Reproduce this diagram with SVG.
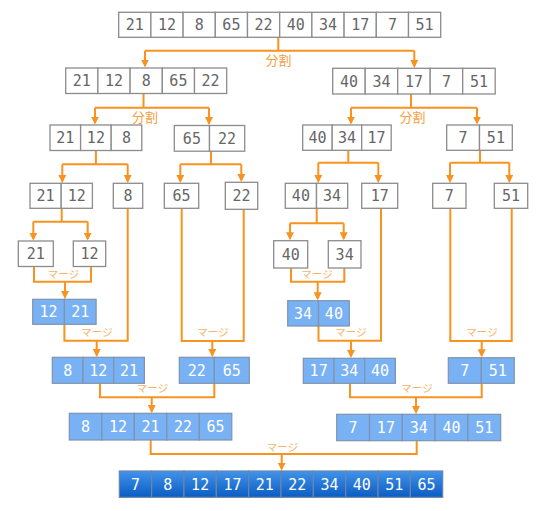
<svg xmlns="http://www.w3.org/2000/svg" width="542" height="511" viewBox="0 0 542 511">
<defs>
<linearGradient id="fg" x1="0" y1="0" x2="0" y2="1">
<stop offset="0" stop-color="#4193ea"/>
<stop offset="1" stop-color="#0b5cc2"/>
</linearGradient>
<marker id="ah" viewBox="0 0 10 10" refX="8" refY="5" markerWidth="8" markerHeight="8" markerUnits="userSpaceOnUse" orient="auto">
<path d="M0,0 L10,5 L0,10 z" fill="#f7931e"/>
</marker>
<style>
.g rect{fill:#fff;stroke:#8c8c8c;stroke-width:1.3}
.g text{fill:#666}
.b rect{fill:#79b1f5;stroke:#7f93ad;stroke-width:1.2}
.b text{fill:#fff}
.f rect{fill:url(#fg);stroke:#6a86aa;stroke-width:1.2}
.f text{fill:#fff}
text.n{font-family:"DejaVu Sans Mono",monospace;font-size:15px;text-anchor:middle}
.c path{fill:none;stroke:#f7931e;stroke-width:2}
.c path.a{marker-end:url(#ah)}
.lbl{font-family:"Noto Sans CJK JP",sans-serif;text-anchor:middle}
.split{fill:#f5a040;font-size:13px}
.merge{fill:#f7b36a;font-size:10.5px}
</style>
</defs>
<rect width="542" height="511" fill="#fff"/>

<g id="connectors" class="c">
<path d="M278.3 37.3V50.7M145 50.7H414.3"/>
<path class="a" d="M145 50.7V66"/>
<path class="a" d="M414.3 50.7V66.3"/>
<path d="M143.5 93.5V107.7M95 107.7H209"/>
<path class="a" d="M95 107.7V123"/>
<path class="a" d="M209 107.7V123.5"/>
<path d="M411 94V107.7M351 107.7H477"/>
<path class="a" d="M351 107.7V123"/>
<path class="a" d="M477 107.7V123"/>
<path d="M95.9 150.5V164.3M62.3 164.3H127.7"/>
<path class="a" d="M62.3 164.3V181.3"/>
<path class="a" d="M127.7 164.3V181.3"/>
<path d="M211 151.2V164.3M180.3 164.3H241.3"/>
<path class="a" d="M180.3 164.3V181.3"/>
<path class="a" d="M241.3 164.3V180.3"/>
<path d="M348.3 150.3V162.7M318.3 162.7H378.3"/>
<path class="a" d="M318.3 162.7V181.3"/>
<path class="a" d="M378.3 162.7V181.3"/>
<path d="M480 150.3V162.7M450 162.7H509.3"/>
<path class="a" d="M450 162.7V181.3"/>
<path class="a" d="M509.3 162.7V181.3"/>
<path d="M61.7 208.3V221.7M33.3 221.7H87.7"/>
<path class="a" d="M33.3 221.7V239"/>
<path class="a" d="M87.7 221.7V239"/>
<path d="M316.7 208.3V223.3M290 223.3H343.7"/>
<path class="a" d="M290 223.3V238.7"/>
<path class="a" d="M343.7 223.3V238.7"/>
<path d="M34 266.5V281.7H91V266.5"/>
<path class="a" d="M65 281.7V297.3"/>
<path d="M291 268V281.7H344.3V268"/>
<path class="a" d="M317.7 281.7V298.7"/>
<path d="M64.4 324.3V340.7H127.7V208.3"/>
<path class="a" d="M96.7 340.7V355.3"/>
<path d="M181.7 208.3V341H243.7V209.3"/>
<path class="a" d="M212.3 341V355.3"/>
<path d="M318.5 326V340.7H381V208.3"/>
<path class="a" d="M351 340.7V356.3"/>
<path d="M450.3 208.3V341H511.7V208.3"/>
<path class="a" d="M481.7 341V355.7"/>
<path d="M100 383.3V397.3H214.3V383.3"/>
<path class="a" d="M151.7 397.3V411.3"/>
<path d="M350 383.3V397.3H481.7V383.3"/>
<path class="a" d="M416 397.3V412.3"/>
<path d="M150.7 440V454H416.7V440.7"/>
<path class="a" d="M281.7 454V469"/>
</g>

<g id="labels">
<text class="lbl split" x="278.5" y="65">分割</text>
<text class="lbl split" x="145" y="121.5">分割</text>
<text class="lbl split" x="412.5" y="121.5">分割</text>
<text class="lbl merge" x="63.5" y="277.5">マージ</text>
<text class="lbl merge" x="317" y="277.5">マージ</text>
<text class="lbl merge" x="97" y="336">マージ</text>
<text class="lbl merge" x="213" y="336">マージ</text>
<text class="lbl merge" x="351" y="336">マージ</text>
<text class="lbl merge" x="482" y="336">マージ</text>
<text class="lbl merge" x="152.5" y="392">マージ</text>
<text class="lbl merge" x="417" y="392">マージ</text>
<text class="lbl merge" x="282.5" y="451">マージ</text>
</g>

<g id="n-top" class="g">
<rect x="118.7" y="12.3" width="32.2" height="25"/><rect x="150.9" y="12.3" width="32.2" height="25"/><rect x="183.1" y="12.3" width="32.2" height="25"/><rect x="215.3" y="12.3" width="32.2" height="25"/><rect x="247.5" y="12.3" width="32.2" height="25"/><rect x="279.7" y="12.3" width="32.2" height="25"/><rect x="311.9" y="12.3" width="32.2" height="25"/><rect x="344.1" y="12.3" width="32.2" height="25"/><rect x="376.3" y="12.3" width="32.2" height="25"/><rect x="408.5" y="12.3" width="32.2" height="25"/>
<text class="n" x="134.8" y="30.3">21</text><text class="n" x="167" y="30.3">12</text><text class="n" x="199.2" y="30.3">8</text><text class="n" x="231.4" y="30.3">65</text><text class="n" x="263.6" y="30.3">22</text><text class="n" x="295.8" y="30.3">40</text><text class="n" x="328" y="30.3">34</text><text class="n" x="360.2" y="30.3">17</text><text class="n" x="392.4" y="30.3">7</text><text class="n" x="424.6" y="30.3">51</text>
</g>

<g id="n-l1" class="g">
<rect x="65.7" y="68" width="32.2" height="25.5"/><rect x="97.9" y="68" width="32.2" height="25.5"/><rect x="130.1" y="68" width="32.2" height="25.5"/><rect x="162.3" y="68" width="32.2" height="25.5"/><rect x="194.5" y="68" width="32.2" height="25.5"/>
<text class="n" x="81.8" y="86.3">21</text><text class="n" x="114" y="86.3">12</text><text class="n" x="146.2" y="86.3">8</text><text class="n" x="178.4" y="86.3">65</text><text class="n" x="210.6" y="86.3">22</text>
</g>

<g id="n-r1" class="g">
<rect x="332.7" y="68.3" width="32.5" height="25.7"/><rect x="365.2" y="68.3" width="32.5" height="25.7"/><rect x="397.7" y="68.3" width="32.5" height="25.7"/><rect x="430.2" y="68.3" width="32.5" height="25.7"/><rect x="462.7" y="68.3" width="32.5" height="25.7"/>
<text class="n" x="348.95" y="86.6">40</text><text class="n" x="381.45" y="86.6">34</text><text class="n" x="413.95" y="86.6">17</text><text class="n" x="446.45" y="86.6">7</text><text class="n" x="478.95" y="86.6">51</text>
</g>

<g id="n-l2a" class="g">
<rect x="50" y="125" width="30.6" height="25.5"/><rect x="80.6" y="125" width="30.6" height="25.5"/><rect x="111.2" y="125" width="30.6" height="25.5"/>
<text class="n" x="65.3" y="143.3">21</text><text class="n" x="95.9" y="143.3">12</text><text class="n" x="126.5" y="143.3">8</text>
</g>
<g id="n-l2b" class="g">
<rect x="174.3" y="125.5" width="35.2" height="25.7"/><rect x="209.5" y="125.5" width="35.2" height="25.7"/>
<text class="n" x="191.9" y="143.9">65</text><text class="n" x="227.1" y="143.9">22</text>
</g>
<g id="n-r2a" class="g">
<rect x="302.7" y="125" width="29.5" height="25.3"/><rect x="332.2" y="125" width="29.5" height="25.3"/><rect x="361.7" y="125" width="29.5" height="25.3"/>
<text class="n" x="317.45" y="143.2">40</text><text class="n" x="346.95" y="143.2">34</text><text class="n" x="376.45" y="143.2">17</text>
</g>
<g id="n-r2b" class="g">
<rect x="446.7" y="125" width="32.8" height="25.3"/><rect x="479.5" y="125" width="32.8" height="25.3"/>
<text class="n" x="463.1" y="143.2">7</text><text class="n" x="495.9" y="143.2">51</text>
</g>

<g id="n-2112" class="g">
<rect x="30" y="183.3" width="31.2" height="25"/><rect x="61.2" y="183.3" width="31.2" height="25"/>
<text class="n" x="45.6" y="201.3">21</text><text class="n" x="76.8" y="201.3">12</text>
</g>
<g id="n-8" class="g"><rect x="113.3" y="183.3" width="29.4" height="25"/><text class="n" x="128" y="201.3">8</text></g>
<g id="n-65" class="g"><rect x="164.3" y="183.3" width="34.4" height="25"/><text class="n" x="181.5" y="201.3">65</text></g>
<g id="n-22" class="g"><rect x="225.3" y="182.3" width="32.4" height="27"/><text class="n" x="241.5" y="201.3">22</text></g>
<g id="n-4034" class="g">
<rect x="285.3" y="183.3" width="31.2" height="25"/><rect x="316.5" y="183.3" width="31.2" height="25"/>
<text class="n" x="300.9" y="201.3">40</text><text class="n" x="332.1" y="201.3">34</text>
</g>
<g id="n-17" class="g"><rect x="361.7" y="183.3" width="36" height="25"/><text class="n" x="379.7" y="201.3">17</text></g>
<g id="n-7" class="g"><rect x="432.7" y="183.3" width="33.3" height="25"/><text class="n" x="449.35" y="201.3">7</text></g>
<g id="n-51" class="g"><rect x="494.3" y="183.3" width="33.4" height="25"/><text class="n" x="511" y="201.3">51</text></g>

<g id="n-21" class="g"><rect x="18.3" y="241" width="35" height="25.5"/><text class="n" x="35.8" y="259.3">21</text></g>
<g id="n-12" class="g"><rect x="73.3" y="241" width="32.4" height="25.5"/><text class="n" x="89.5" y="259.3">12</text></g>
<g id="n-40" class="g"><rect x="273.7" y="240.7" width="34" height="27.3"/><text class="n" x="290.7" y="259.9">40</text></g>
<g id="n-34" class="g"><rect x="328.3" y="240.7" width="32.7" height="27.3"/><text class="n" x="344.65" y="259.9">34</text></g>

<g id="m-1221" class="b">
<rect x="32.7" y="299.3" width="31.7" height="25"/><rect x="64.4" y="299.3" width="31.7" height="25"/>
<text class="n" x="48.55" y="317.3">12</text><text class="n" x="80.25" y="317.3">21</text>
</g>
<g id="m-3440" class="b">
<rect x="287.7" y="300.7" width="30.8" height="25.3"/><rect x="318.5" y="300.7" width="30.8" height="25.3"/>
<text class="n" x="303.1" y="318.9">34</text><text class="n" x="333.9" y="318.9">40</text>
</g>

<g id="m-81221" class="b">
<rect x="52.3" y="357.3" width="30.7" height="26"/><rect x="83" y="357.3" width="30.7" height="26"/><rect x="113.7" y="357.3" width="30.7" height="26"/>
<text class="n" x="67.65" y="375.8">8</text><text class="n" x="98.35" y="375.8">12</text><text class="n" x="129.05" y="375.8">21</text>
</g>
<g id="m-2265" class="b">
<rect x="179.3" y="357.3" width="35" height="26"/><rect x="214.3" y="357.3" width="35" height="26"/>
<text class="n" x="196.8" y="375.8">22</text><text class="n" x="231.8" y="375.8">65</text>
</g>
<g id="m-173440" class="b">
<rect x="303.3" y="358.3" width="30.7" height="25"/><rect x="334" y="358.3" width="30.7" height="25"/><rect x="364.7" y="358.3" width="30.7" height="25"/>
<text class="n" x="318.65" y="376.3">17</text><text class="n" x="349.35" y="376.3">34</text><text class="n" x="380.05" y="376.3">40</text>
</g>
<g id="m-751" class="b">
<rect x="448.3" y="357.7" width="33" height="25.6"/><rect x="481.3" y="357.7" width="33" height="25.6"/>
<text class="n" x="464.8" y="376">7</text><text class="n" x="497.8" y="376">51</text>
</g>

<g id="m-left" class="b">
<rect x="69.3" y="413.3" width="32.5" height="26.7"/><rect x="101.8" y="413.3" width="32.5" height="26.7"/><rect x="134.3" y="413.3" width="32.5" height="26.7"/><rect x="166.8" y="413.3" width="32.5" height="26.7"/><rect x="199.3" y="413.3" width="32.5" height="26.7"/>
<text class="n" x="85.55" y="432.2">8</text><text class="n" x="118.05" y="432.2">12</text><text class="n" x="150.55" y="432.2">21</text><text class="n" x="183.05" y="432.2">22</text><text class="n" x="215.55" y="432.2">65</text>
</g>
<g id="m-right" class="b">
<rect x="336.7" y="414.3" width="32.8" height="26.4"/><rect x="369.5" y="414.3" width="32.8" height="26.4"/><rect x="402.3" y="414.3" width="32.8" height="26.4"/><rect x="435.1" y="414.3" width="32.8" height="26.4"/><rect x="467.9" y="414.3" width="32.8" height="26.4"/>
<text class="n" x="353.1" y="433">7</text><text class="n" x="385.9" y="433">17</text><text class="n" x="418.7" y="433">34</text><text class="n" x="451.5" y="433">40</text><text class="n" x="484.3" y="433">51</text>
</g>

<g id="m-final" class="f">
<rect x="119.3" y="471" width="32.34" height="26.3"/><rect x="151.64" y="471" width="32.34" height="26.3"/><rect x="183.98" y="471" width="32.34" height="26.3"/><rect x="216.32" y="471" width="32.34" height="26.3"/><rect x="248.66" y="471" width="32.34" height="26.3"/><rect x="281" y="471" width="32.34" height="26.3"/><rect x="313.34" y="471" width="32.34" height="26.3"/><rect x="345.68" y="471" width="32.34" height="26.3"/><rect x="378.02" y="471" width="32.34" height="26.3"/><rect x="410.36" y="471" width="32.34" height="26.3"/>
<text class="n" x="135.47" y="489.7">7</text><text class="n" x="167.81" y="489.7">8</text><text class="n" x="200.15" y="489.7">12</text><text class="n" x="232.49" y="489.7">17</text><text class="n" x="264.83" y="489.7">21</text><text class="n" x="297.17" y="489.7">22</text><text class="n" x="329.51" y="489.7">34</text><text class="n" x="361.85" y="489.7">40</text><text class="n" x="394.19" y="489.7">51</text><text class="n" x="426.53" y="489.7">65</text>
</g>
</svg>
